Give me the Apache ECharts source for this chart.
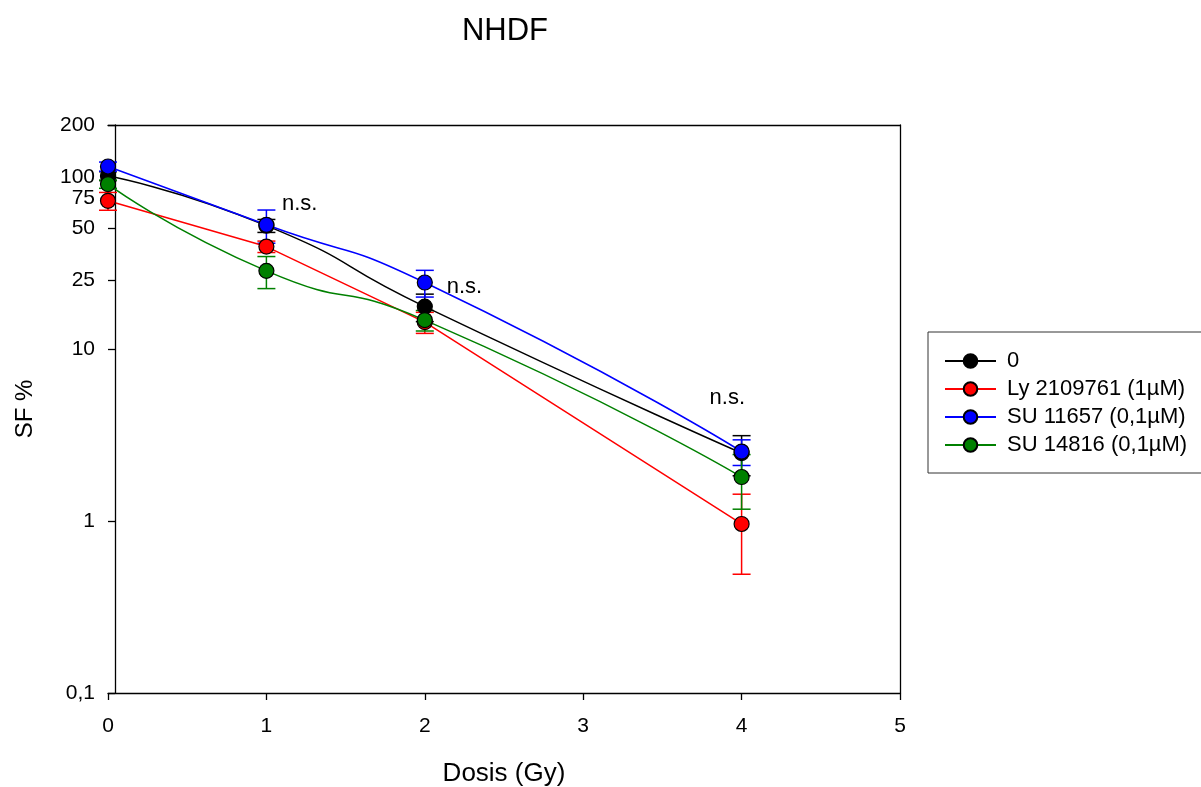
<!DOCTYPE html>
<html>
<head>
<meta charset="utf-8">
<title>NHDF</title>
<script src="https://cdn.jsdelivr.net/npm/echarts@6/dist/echarts.min.js"></script>
<style>
  html, body { margin: 0; padding: 0; background: #fff; }
  #chart { width: 1201px; height: 787px; }
</style>
</head>
<body>
<div id="chart"></div>
<script>
// Dose in Gy
const doses = [0, 1, 2, 4];

// Surviving fraction (%) per treatment, mean and standard deviation
const names = ['0', 'Ly 2109761 (1µM)', 'SU 11657 (0,1µM)', 'SU 14816 (0,1µM)'];
const sfControl = [101, 52, 17.6, 2.48];
const sfLy = [72.5, 39.3, 14.3, 0.96];
const sfSU11657 = [114.8, 52.6, 24.3, 2.53];
const sfSU14816 = [90.7, 28.4, 14.7, 1.80];

const errControl = [6, 4.5, 3.2, 0.65];
const errLy = [8.6, 3, 2, 0.47];
const errSU11657 = [7, 11.5, 4.3, 0.43];
const errSU14816 = [5, 6, 2, 0.63];

// Significance notes: [dose, SF %]
const notePositions = [[1.21, 70], [2.25, 23], [3.91, 5.2]];
const noteText = 'n.s.';

// Y axis tick values
const yTicks = [0.1, 1, 10, 25, 50, 75, 100, 200];

const colors = ['#000000', '#ff0000', '#0000ff', '#008000'];
const smoothness = [0.6, false, 0.6, 0.6];
const means = [sfControl, sfLy, sfSU11657, sfSU14816];
const errs = [errControl, errLy, errSU11657, errSU14816];

const FONT = 'Liberation Sans, Arial, sans-serif';

function errorBarSeries(idx) {
  const color = colors[idx];
  return {
    name: names[idx] + ' error',
    type: 'custom',
    xAxisIndex: 0,
    yAxisIndex: 0,
    z: 2,
    silent: true,
    data: doses.map((d, i) => [d, means[idx][i] - errs[idx][i], means[idx][i] + errs[idx][i]]),
    renderItem: function (params, api) {
      const lo = api.coord([api.value(0), api.value(1)]);
      const hi = api.coord([api.value(0), api.value(2)]);
      const hw = 9;
      const style = { stroke: color, lineWidth: 1.5, fill: null };
      return {
        type: 'group',
        children: [
          { type: 'line', shape: { x1: lo[0], y1: lo[1], x2: hi[0], y2: hi[1] }, style: style },
          { type: 'line', shape: { x1: lo[0] - hw, y1: lo[1], x2: lo[0] + hw, y2: lo[1] }, style: style },
          { type: 'line', shape: { x1: hi[0] - hw, y1: hi[1], x2: hi[0] + hw, y2: hi[1] }, style: style }
        ]
      };
    }
  };
}

function lineSeries(idx) {
  return {
    name: names[idx],
    type: 'line',
    xAxisIndex: 0,
    yAxisIndex: 0,
    z: 2,
    smooth: smoothness[idx],
    data: doses.map((d, i) => [d, means[idx][i]]),
    symbol: 'circle',
    symbolSize: 15,
    showAllSymbol: true,
    lineStyle: { color: colors[idx], width: 1.5 },
    itemStyle: { color: colors[idx], borderColor: '#000', borderWidth: 1.2 },
    emphasis: { disabled: true }
  };
}

const series = [];
for (let i = 0; i < names.length; i++) {
  series.push(errorBarSeries(i));
  series.push(lineSeries(i));
}
series.push({
  name: 'notes',
  type: 'scatter',
  xAxisIndex: 0,
  yAxisIndex: 0,
  symbolSize: 1,
  itemStyle: { color: 'rgba(0,0,0,0)' },
  silent: true,
  z: 5,
  data: notePositions.map(p => ({ value: p, name: noteText })),
  label: {
    show: true,
    position: 'inside',
    formatter: '{b}',
    color: '#000000',
    textBorderWidth: 0,
    opacity: 1,
    fontSize: 22,
    fontFamily: FONT
  }
});

const chart = echarts.init(document.getElementById('chart'), null, { renderer: 'canvas' });

const axisLineStyle = { color: '#000', width: 1.3 };

chart.setOption({
  animation: false,
  backgroundColor: '#ffffff',
  title: {
    text: 'NHDF',
    left: 500,
    textAlign: 'center',
    top: 11,
    textStyle: { fontFamily: FONT, fontSize: 31, fontWeight: 'normal', color: '#000' }
  },
  grid: { left: 108, right: 301, top: 125, bottom: 94, containLabel: false, outerBoundsMode: 'none' },
  legend: {
    data: names,
    orient: 'vertical',
    left: 928,
    top: 332,
    padding: [18, 40, 17, 16],
    itemGap: 6,
    itemWidth: 51,
    itemHeight: 17,
    borderColor: '#333',
    borderWidth: 1,
    textStyle: { fontFamily: FONT, fontSize: 22, color: '#000', padding: [0, 0, 0, 6] }
  },
  xAxis: [
    {
      type: 'value',
      min: 0,
      max: 5,
      interval: 1,
      name: 'Dosis (Gy)',
      nameLocation: 'middle',
      nameGap: 68,
      nameTextStyle: { fontFamily: FONT, fontSize: 26, color: '#000' },
      axisLine: { show: true, onZero: false, lineStyle: axisLineStyle },
      axisTick: { show: true, inside: false, length: 7, lineStyle: axisLineStyle },
      axisLabel: { margin: 23, fontFamily: FONT, fontSize: 21, color: '#000' },
      splitLine: { show: false }
    },
    {
      type: 'value',
      position: 'top',
      min: 0,
      max: 5,
      axisLine: { show: true, onZero: false, lineStyle: axisLineStyle },
      axisTick: { show: false },
      axisLabel: { show: false },
      splitLine: { show: false }
    }
  ],
  yAxis: [
    {
      type: 'log',
      logBase: 10,
      min: 0.1,
      max: 200,
      offset: -7,
      name: 'SF %',
      nameLocation: 'middle',
      nameGap: 78,
      nameTextStyle: { fontFamily: FONT, fontSize: 24, color: '#000' },
      axisLine: { show: true, onZero: false, lineStyle: axisLineStyle },
      axisTick: { show: true, inside: false, length: 7, customValues: yTicks, lineStyle: axisLineStyle },
      axisLabel: {
        margin: 20,
        fontFamily: FONT,
        fontSize: 21,
        color: '#000',
        customValues: yTicks,
        formatter: v => String(+v.toPrecision(6)).replace('.', ',')
      },
      splitLine: { show: false }
    },
    {
      type: 'value',
      position: 'right',
      min: 0,
      max: 1,
      axisLine: { show: true, onZero: false, lineStyle: axisLineStyle },
      axisTick: { show: false },
      axisLabel: { show: false },
      splitLine: { show: false }
    }
  ],
  series: series
});
</script>
</body>
</html>
